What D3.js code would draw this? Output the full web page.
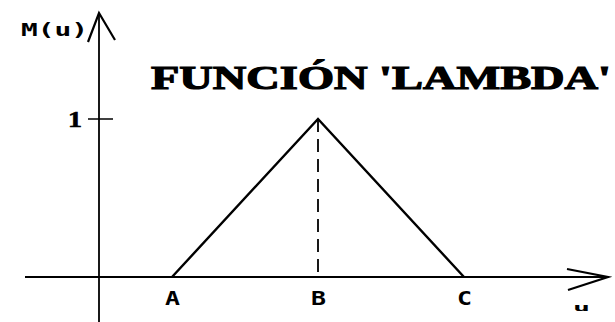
<!DOCTYPE html>
<html>
<head>
<meta charset="utf-8">
<script src="https://cdn.jsdelivr.net/npm/d3@7"></script>
<style>
  body { margin: 0; background: #fff; }
</style>
</head>
<body>
<div id="chart"></div>
<script>
// points of the lambda (triangular) membership function
var pointNames = ["A", "B", "C"];
var pointU = [1, 3, 5];
var pointMu = [0, 1, 0];
var yTicks = [1];
var titleText = "FUNCIÓN 'LAMBDA'";

var svgWidth = 615;
var svgHeight = 322;

var svg = d3.select("#chart")
    .append("svg")
    .attr("width", svgWidth)
    .attr("height", svgHeight);

// u axis: origin at the vertical axis
var xScale = d3.scaleLinear().domain([0, 1]).range([99, 172]);
var yScale = d3.scaleLinear().domain([0, 1]).range([277, 119]);

var x0 = xScale(0), y0 = yScale(0);

// horizontal axis + arrow
svg.append("line")
    .attr("x1", 25).attr("x2", 607)
    .attr("y1", y0).attr("y2", y0)
    .attr("stroke", "#000").attr("stroke-width", 1.8);
svg.append("path")
    .attr("d", `M567,${y0 - 8} L608,${y0} L568,${y0 + 13}`)
    .attr("fill", "none").attr("stroke", "#000").attr("stroke-width", 2.2);

// vertical axis + arrow
svg.append("line")
    .attr("x1", x0).attr("x2", x0)
    .attr("y1", 322).attr("y2", 14)
    .attr("stroke", "#000").attr("stroke-width", 1.8);
svg.append("path")
    .attr("d", `M88,42 L${x0},13 L115,40`)
    .attr("fill", "none").attr("stroke", "#000").attr("stroke-width", 2.2);

// ticks on mu axis
svg.selectAll(".ytick").data(yTicks).enter().append("line")
    .attr("class", "ytick")
    .attr("x1", x0 - 11).attr("x2", x0 + 14)
    .attr("y1", d => yScale(d)).attr("y2", d => yScale(d))
    .attr("stroke", "#000").attr("stroke-width", 1.5);
svg.selectAll(".ylab").data(yTicks).enter().append("text")
    .attr("class", "ylab")
    .attr("x", 68).attr("y", d => yScale(d) + 8)
    .attr("textLength", 14).attr("lengthAdjust", "spacingAndGlyphs")
    .style("font", "bold 23px 'Liberation Serif'")
    .style("stroke", "#000").style("stroke-width", 0.6)
    .text(d => d);

// the triangle
var pts = pointU.map((u, i) => [u, pointMu[i]]);
var line = d3.line().x(d => xScale(d[0])).y(d => yScale(d[1]));
svg.append("path")
    .attr("d", line(pts))
    .attr("fill", "none").attr("stroke", "#000")
    .attr("stroke-width", 2.4).attr("stroke-linejoin", "miter");

// dashed line from the peak
svg.append("line")
    .attr("x1", xScale(pointU[1])).attr("x2", xScale(pointU[1]))
    .attr("y1", yScale(pointMu[1])).attr("y2", y0)
    .attr("stroke", "#000").attr("stroke-width", 1.8)
    .attr("stroke-dasharray", "13,7");

// A B C labels
svg.selectAll(".plab").data(pointNames).enter().append("text")
    .attr("class", "plab")
    .attr("x", (d, i) => xScale(pointU[i]) - 7)
    .attr("y", 305)
    .attr("textLength", 15).attr("lengthAdjust", "spacingAndGlyphs")
    .style("font", "bold 20px 'DejaVu Sans Mono'")
    .text(d => d);

// axis names
svg.append("text")
    .attr("x", 21).attr("y", 36)
    .attr("textLength", 67).attr("lengthAdjust", "spacingAndGlyphs")
    .style("font", "bold 17px 'DejaVu Sans Mono'")
    .text("M(u)");
svg.append("text")
    .attr("x", 573).attr("y", 311)
    .attr("textLength", 17).attr("lengthAdjust", "spacingAndGlyphs")
    .style("font", "bold 11px 'DejaVu Sans Mono'")
    .text("u");

// title
svg.append("text")
    .attr("x", 151).attr("y", 89)
    .attr("textLength", 460).attr("lengthAdjust", "spacingAndGlyphs")
    .style("font", "bold 33px 'Liberation Serif'")
    .style("stroke", "#000").style("stroke-width", 1.2)
    .text(titleText);
</script>
</body>
</html>
